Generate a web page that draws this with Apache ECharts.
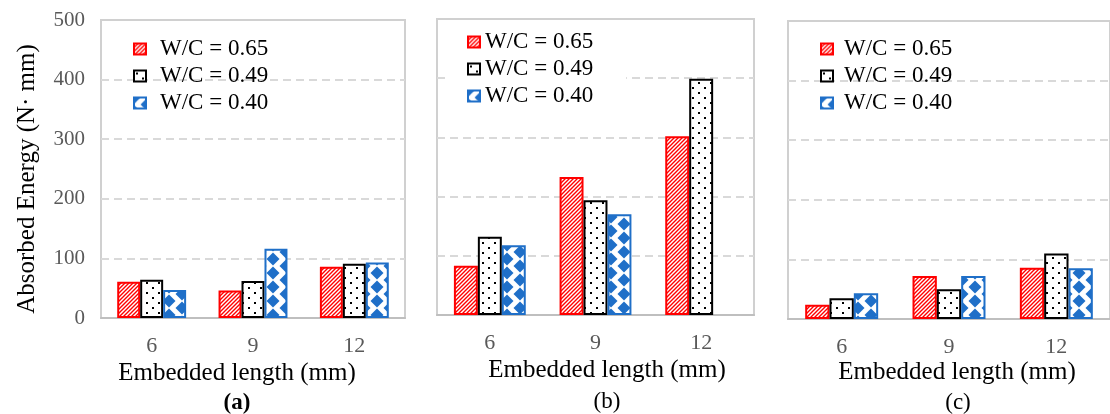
<!DOCTYPE html>
<html>
<head>
<meta charset="utf-8">
<script src="https://cdn.jsdelivr.net/npm/echarts@6/dist/echarts.min.js"></script>
<style>
html, body { margin: 0; padding: 0; background: #fff; }
#chart { width: 1110px; height: 414px; }
</style>
</head>
<body>
<div id="chart"></div>
<script>
// data
var categories = ['6', '9', '12'];
var names = ['W/C = 0.65', 'W/C = 0.49', 'W/C = 0.40'];
var aW065 = [61, 46, 86];
var aW049 = [64, 62, 91];
var aW040 = [47, 116, 93];
var bW065 = [83, 233, 302];
var bW049 = [132, 194, 399];
var bW040 = [118, 170, null];
var cW065 = [24, 72, 86];
var cW049 = [35, 50, 110];
var cW040 = [43, 72, 85];
var yMax = 500, yStep = 100;

var serif = '"Liberation Serif", "Times New Roman", serif';

// fill patterns
function hatch() {
    var c = document.createElement('canvas');
    c.width = 4; c.height = 4;
    var g = c.getContext('2d');
    g.fillStyle = '#fff'; g.fillRect(0, 0, 4, 4);
    g.strokeStyle = '#ff0000'; g.lineWidth = 1.4;
    g.beginPath();
    g.moveTo(-1, 5); g.lineTo(5, -1);
    g.moveTo(-1, 1); g.lineTo(1, -1);
    g.moveTo(3, 5); g.lineTo(5, 3);
    g.stroke();
    return c;
}
function dots() {
    var c = document.createElement('canvas');
    c.width = 12; c.height = 10;
    var g = c.getContext('2d');
    g.fillStyle = '#fff'; g.fillRect(0, 0, 12, 10);
    g.fillStyle = '#000';
    g.fillRect(2, 2, 2, 2);
    g.fillRect(8, 7, 2, 2);
    return c;
}
function diamonds() {
    var w = 26, h = 14;
    var c = document.createElement('canvas');
    c.width = w; c.height = h;
    var g = c.getContext('2d');
    g.fillStyle = '#fff'; g.fillRect(0, 0, w, h);
    g.fillStyle = '#1f6fc8';
    var pts = [[13, 7], [0, 0], [w, 0], [0, h], [w, h]];
    pts.forEach(function (p) {
        g.beginPath();
        g.moveTo(p[0], p[1] - 6.5);
        g.lineTo(p[0] + 6.5, p[1]);
        g.lineTo(p[0], p[1] + 6.5);
        g.lineTo(p[0] - 6.5, p[1]);
        g.closePath();
        g.fill();
    });
    return c;
}
var pats = [hatch(), dots(), diamonds()];
var edge = ['#ff0000', '#000000', '#1f6fc8'];

function bar(i, idx, data) {
    return {
        name: names[i],
        type: 'bar',
        xAxisIndex: idx,
        yAxisIndex: idx,
        data: data,
        barGap: '0%',
        barCategoryGap: '32%',
        itemStyle: {
            color: { image: pats[i], repeat: 'repeat' },
            borderColor: edge[i],
            borderWidth: 2
        },
        emphasis: { disabled: true }
    };
}

var grids = [
    { left: 101, top: 20, width: 304, height: 298 },
    { left: 437, top: 19, width: 317, height: 296 },
    { left: 788, top: 21, width: 333, height: 298 }
];
grids.forEach(function (g) {
    g.show = true;
    g.borderColor = '#d0d0d0';
    g.borderWidth = 2;
    g.backgroundColor = 'transparent';
});

var xAxes = [0, 1, 2].map(function (k) {
    return {
        type: 'category',
        gridIndex: k,
        data: categories,
        axisTick: { show: false },
        axisLine: { lineStyle: { color: '#bfbfbf', width: 2 } },
        axisLabel: { color: '#595959', fontFamily: serif, fontSize: 22, margin: 17 }
    };
});
var yAxes = [0, 1, 2].map(function (k) {
    return {
        type: 'value',
        gridIndex: k,
        min: 0,
        max: yMax,
        interval: yStep,
        axisLine: { show: false },
        axisTick: { show: false },
        axisLabel: { show: k === 0, color: '#595959', fontFamily: serif, fontSize: 21, margin: 16 },
        splitLine: {
            showMinLine: false,
            showMaxLine: false,
            lineStyle: { color: '#d9d9d9', type: [8, 5], width: 2 }
        }
    };
});

function legend(left, top, textPad, extra) {
    var l = {
        data: names,
        orient: 'vertical',
        left: left,
        top: top,
        icon: 'rect',
        itemWidth: 12,
        itemHeight: 11,
        itemGap: 3,
        padding: 0,
        selectedMode: false,
        textStyle: { fontFamily: serif, fontSize: 23, color: '#000', lineHeight: 24, padding: [0, 0, 0, textPad] }
    };
    for (var k in extra) l[k] = extra[k];
    return l;
}

function label(x, y, text, font) {
    return {
        type: 'text', x: x, y: y, silent: true,
        style: { text: text, font: font, fill: '#000', align: 'center', verticalAlign: 'middle', textAlign: 'center', textVerticalAlign: 'middle' }
    };
}

var chart = echarts.init(document.getElementById('chart'));
chart.setOption({
    animation: false,
    grid: grids,
    xAxis: xAxes,
    yAxis: yAxes,
    legend: [
        legend(133, 37, 9, {}),
        legend(445, 26, 0, { padding: [4, 33, 4, 22], backgroundColor: '#fff' }),
        legend(820, 37, 6, {})
    ],
    series: [
        bar(0, 0, aW065), bar(1, 0, aW049), bar(2, 0, aW040),
        bar(0, 1, bW065), bar(1, 1, bW049), bar(2, 1, bW040),
        bar(0, 2, cW065), bar(1, 2, cW049), bar(2, 2, cW040)
    ],
    graphic: [
        {
            type: 'text', x: 27, y: 179, rotation: Math.PI / 2, silent: true,
            style: { text: 'Absorbed Energy (N\u00b7 mm)', font: '25px ' + serif, fill: '#000', align: 'center', verticalAlign: 'middle', textAlign: 'center', textVerticalAlign: 'middle' }
        },
        label(237, 373, 'Embedded length (mm)', '25px ' + serif),
        label(607, 370, 'Embedded length (mm)', '25px ' + serif),
        label(957, 372, 'Embedded length (mm)', '25px ' + serif),
        label(237, 403, '(a)', 'bold 23px ' + serif),
        label(607, 402, '(b)', '23px ' + serif),
        label(958, 403, '(c)', '23px ' + serif)
    ]
});
</script>
</body>
</html>
